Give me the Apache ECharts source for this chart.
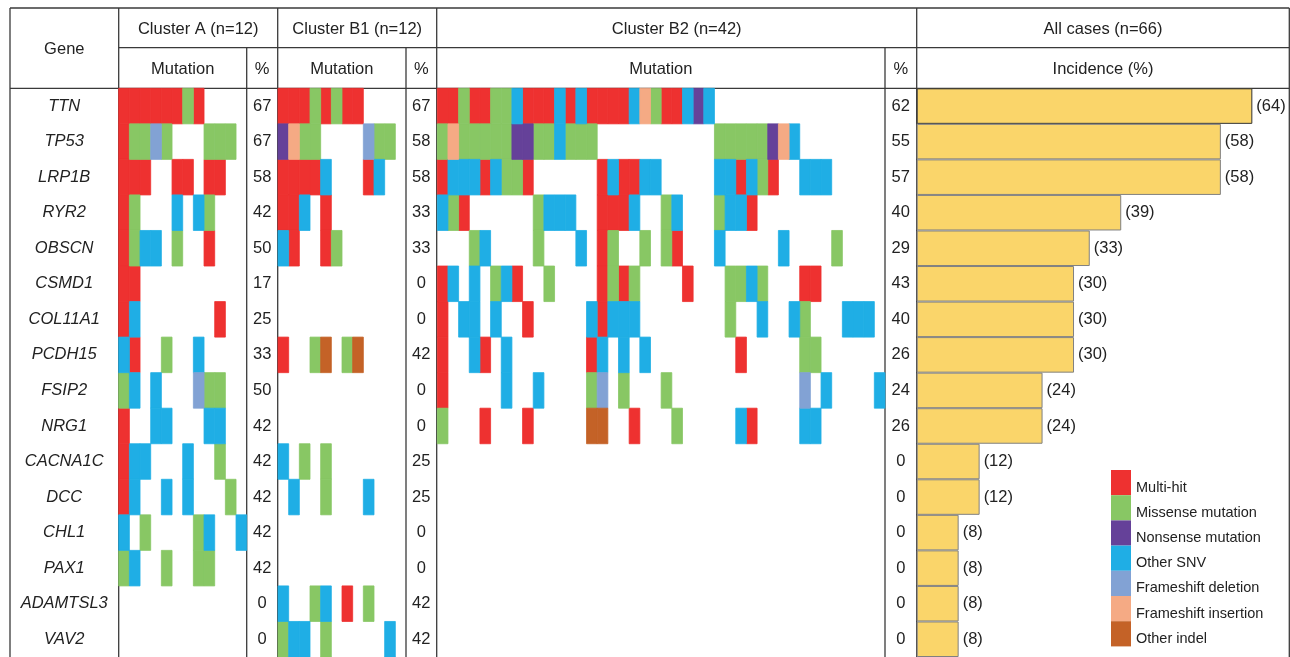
<!DOCTYPE html>
<html><head><meta charset="utf-8">
<script src="https://cdn.jsdelivr.net/npm/echarts@6/dist/echarts.min.js"></script>
<style>html,body{margin:0;padding:0;background:#fff}#c{width:1290px;height:657px}</style>
</head><body><div id="c"></div>
<script>
const genes = ['TTN','TP53','LRP1B','RYR2','OBSCN','CSMD1','COL11A1','PCDH15','FSIP2','NRG1','CACNA1C','DCC','CHL1','PAX1','ADAMTSL3','VAV2'];
const mutationTypes = ['Multi-hit','Missense mutation','Nonsense mutation','Other SNV','Frameshift deletion','Frameshift insertion','Other indel'];
const typeCodes = ['R','G','P','B','D','I','O'];
const typeColors = ['#EE3130','#88C764','#654199','#1FAEE5','#82A2D4','#F5AA84','#C46227'];

// one string per gene, one character per sample ('.' = no mutation)
const clusterA = [
  'RRRRRRGR....',
  'RGGDG...GGG.',
  'RRR..RR.RR..',
  'RG...B.BG...',
  'RGBB.G..R...',
  'RR..........',
  'RB.......R..',
  'BR..G..B....',
  'GB.B...DGG..',
  'R..BB...BB..',
  'RBB...B..G..',
  'RB..B.B...G.',
  'B.G....GB..B',
  'GB..G..GG...',
  '............',
  '............'
];
const clusterB1 = [
  'RRRGRGRR....',
  'PIGG....DGG.',
  'RRRRB...RB..',
  'RRB.R.......',
  'BR..RG......',
  '............',
  '............',
  'R..GO.GO....',
  '............',
  '............',
  'B.G.G.......',
  '.B..G...B...',
  '............',
  '............',
  'B..GB.R.G...',
  'GBB.G.....B.'
];
const clusterB2 = [
  'RRGRRGGBRRRBRBRRRRBIGRRBPB................',
  'GIGGGGGPPGGBGGG...........GGGGGPIB........',
  'RBBBRBGGR......RBRRBB.....BBRBGR..BBB.....',
  'BGR......GBBB..RRRB..GB...GBBR............',
  '...GB....G...B.RG..G.GR...B.....B....G....',
  'RB.B.GBR..G....RGRG....R...GGBG...RR......',
  'R.BB.B..R.....BRBBB........G..B..BG...BBB.',
  'R..BR.B.......RB.B.B........R.....GG......',
  'R.....B..B....GD.G...G............D.B....B',
  'G...R...R.....OO..R...G.....BR....BB......',
  '..........................................',
  '..........................................',
  '..........................................',
  '..........................................',
  '..........................................',
  '..........................................'
];
const pctA  = [67,67,58,42,50,17,25,33,50,42,42,42,42,42,0,0];
const pctB1 = [67,58,58,33,33,0,0,42,0,0,25,25,0,0,42,42];
const pctB2 = [62,55,57,40,29,43,40,26,24,26,0,0,0,0,0,0];
const incidenceAll = [64,58,58,39,33,30,30,30,24,24,12,12,8,8,8,8];

const FONT = 'Liberation Sans, Arial, Helvetica, sans-serif';
const TXT = '#222';
const clusters = [clusterA, clusterB1, clusterB2];
const clusterYAxis = [0, 2, 3];

const rowTop = 88.3, rowH = 35.9, nRows = genes.length;
const gridH = rowH * nRows;

function renderCell(params, api) {
  const p = api.coord([api.value(0), api.value(1)]);
  const s = api.size([1, 1]);
  const c = api.visual('color');
  return {
    type: 'rect',
    shape: { x: p[0] - s[0] / 2, y: p[1] - s[1] / 2, width: s[0], height: s[1] },
    style: { fill: c, stroke: c, lineWidth: 0.8 }
  };
}

const series = [];
clusters.forEach((rows, k) => {
  typeCodes.forEach((code, t) => {
    const data = [];
    rows.forEach((str, g) => {
      for (let i = 0; i < str.length; i++) if (str[i] === code) data.push([i, g]);
    });
    series.push({
      type: 'custom', name: mutationTypes[t], xAxisIndex: k, yAxisIndex: clusterYAxis[k],
      itemStyle: { color: typeColors[t] }, encode: { x: 0, y: 1 },
      renderItem: renderCell, data: data, silent: true
    });
  });
});
series.push({
  type: 'bar', xAxisIndex: 3, yAxisIndex: 4, barCategoryGap: 0,
  data: incidenceAll.map((v, i) => i === 0 ? { value: v, itemStyle: { borderColor: '#333' } } : v),
  itemStyle: { color: '#FAD56A', borderColor: '#808080', borderWidth: 1 },
  label: { show: true, position: 'right', distance: 4, formatter: p => '(' + p.value + ')', fontSize: 16.5, color: TXT, fontFamily: FONT },
  silent: true
});

const hidden = { show: false };
const catX = n => ({ type: 'category', data: Array.from({ length: n }, (_, i) => i), show: false });
function pctAxis(grid, arr, margin) {
  return {
    type: 'category', gridIndex: grid, data: genes, inverse: true, position: 'right',
    axisLine: hidden, axisTick: hidden, splitLine: hidden,
    axisLabel: { interval: 0, margin: margin, align: 'center', formatter: (v, i) => String(arr[i]), fontSize: 16.5, color: TXT, fontFamily: FONT }
  };
}

const lineStyle = { stroke: '#3a3a3a', lineWidth: 1.3 };
const V = (x, y1, y2) => ({ type: 'line', shape: { x1: x, y1: y1, x2: x, y2: y2 }, style: lineStyle, silent: true });
const H = (y, x1, x2) => ({ type: 'line', shape: { x1: x1, y1: y, x2: x2, y2: y }, style: lineStyle, silent: true });
const T = (text, x, y, extra) => ({ type: 'text', x: x, y: y, silent: true,
  style: Object.assign({ text: text, fill: TXT, font: '16.5px ' + FONT, textAlign: 'center', textVerticalAlign: 'middle' }, extra || {}) });

const option = {
  animation: false,
  backgroundColor: '#fff',
  grid: [
    { left: 118.7, top: rowTop, width: 128, height: gridH },
    { left: 278, top: rowTop, width: 128, height: gridH },
    { left: 437.3, top: rowTop, width: 447.7, height: gridH },
    { left: 916.7, top: rowTop, width: 372.6, height: gridH }
  ],
  xAxis: [
    Object.assign(catX(12), { gridIndex: 0 }),
    Object.assign(catX(12), { gridIndex: 1 }),
    Object.assign(catX(42), { gridIndex: 2 }),
    { type: 'value', gridIndex: 3, min: 0, max: 71.05, show: false }
  ],
  yAxis: [
    { type: 'category', gridIndex: 0, data: genes, inverse: true, position: 'left',
      axisLine: hidden, axisTick: hidden, splitLine: hidden,
      axisLabel: { interval: 0, margin: 54.5, align: 'center', fontStyle: 'italic', fontSize: 16.5, color: TXT, fontFamily: FONT } },
    pctAxis(0, pctA, 15.5),
    pctAxis(1, pctB1, 15.3),
    pctAxis(2, pctB2, 15.8),
    { type: 'category', gridIndex: 3, data: genes, inverse: true, show: false }
  ],
  legend: {
    data: mutationTypes, orient: 'vertical', left: 1106, top: 465,
    itemWidth: 20, itemHeight: 25.2, itemGap: 0, icon: 'rect', selectedMode: false,
    formatter: name => '{t|' + name + '}',
    textStyle: {
      fontSize: 14.5, color: TXT, fontFamily: FONT, lineHeight: 13,
      rich: { t: { fontSize: 14.5, color: TXT, fontFamily: FONT, lineHeight: 13, padding: [10, 0, 0, 0] } }
    }
  },
  series: series,
  graphic: [
    H(8, 10, 1289.3), H(47.7, 118.7, 1289.3), H(88.3, 10, 1289.3),
    V(10, 8, 700), V(118.7, 8, 700), V(246.7, 47.7, 700), V(277.7, 8, 700),
    V(406, 47.7, 700), V(436.7, 8, 700), V(885, 47.7, 700), V(916.7, 8, 700), V(1289.3, 8, 700),
    T('Gene', 64.3, 49),
    T('Cluster A (n=12)', 198.2, 29), T('Cluster B1 (n=12)', 357.2, 29),
    T('Cluster B2 (n=42)', 676.7, 29), T('All cases (n=66)', 1103, 29),
    T('Mutation', 182.7, 69), T('%', 262.2, 69),
    T('Mutation', 341.8, 69), T('%', 421.3, 69),
    T('Mutation', 660.8, 69), T('%', 900.8, 69),
    T('Incidence (%)', 1103, 69)
  ]
};
echarts.init(document.getElementById('c')).setOption(option);
</script></body></html>
